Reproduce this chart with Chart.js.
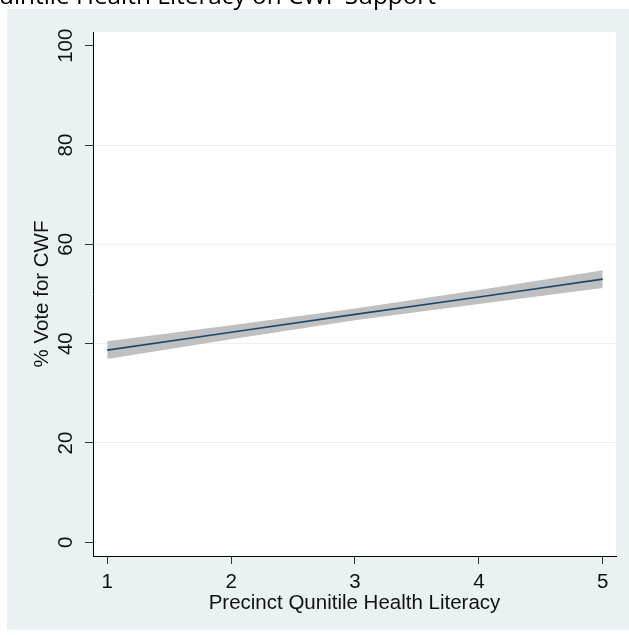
<!DOCTYPE html>
<html>
<head>
<meta charset="utf-8">
<script src="https://cdn.jsdelivr.net/npm/chart.js@4.4.1/dist/chart.umd.min.js"></script>
<style>
  html, body { margin: 0; padding: 0; background: #ffffff; }
  canvas { display: block; }
</style>
</head>
<body>
<canvas id="chart" width="629" height="635"></canvas>
<script>
// Precinct health-literacy quintile
const quintiles = [1, 2, 3, 4, 5];
// Fitted % vote for CWF and its confidence band
const fitted = [38.7, 42.3, 45.9, 49.4, 53.0];
const ciUpper = [40.5, 43.7, 47.1, 50.8, 54.8];
const ciLower = [36.9, 40.9, 44.7, 48.0, 51.2];
// Axis tick labels
const xTicks = [1, 2, 3, 4, 5];
const yTicks = [0, 20, 40, 60, 80, 100];

const titleText = 'uintile Health Literacy on CWF Support';
const axisFont = 'Liberation Sans, Arial, sans-serif';

const toPoints = (ys) => quintiles.map((x, i) => ({ x: x, y: ys[i] }));

// Outer panel, white plot region and the heading
const backdrop = {
  id: 'backdrop',
  beforeDraw(chart) {
    const ctx = chart.ctx;
    const a = chart.chartArea;
    ctx.save();
    ctx.fillStyle = '#ffffff';
    ctx.fillRect(0, 0, chart.width, chart.height);
    ctx.fillStyle = '#eaf1f3';
    ctx.fillRect(7, 9, chart.width - 7, 621);
    ctx.fillStyle = '#ffffff';
    ctx.fillRect(a.left, a.top, a.right - a.left, a.bottom - a.top);

    ctx.fillStyle = '#000000';
    ctx.textBaseline = 'alphabetic';
    ctx.textAlign = 'left';
    ctx.font = '20px "Open Sans"';
    const w = ctx.measureText(titleText).width;
    const size = 20 * 437 / w;
    ctx.font = size.toFixed(2) + 'px "Open Sans"';
    ctx.fillText(titleText, -1, 4);
    ctx.restore();
  }
};

new Chart(document.getElementById('chart'), {
  type: 'line',
  data: {
    datasets: [
      {
        label: 'upper',
        data: toPoints(ciUpper),
        borderWidth: 0,
        borderColor: '#c0c0c0',
        backgroundColor: '#c0c0c0',
        pointRadius: 0,
        fill: '+1',
        order: 2
      },
      {
        label: 'lower',
        data: toPoints(ciLower),
        borderWidth: 0,
        borderColor: '#c0c0c0',
        backgroundColor: '#c0c0c0',
        pointRadius: 0,
        fill: false,
        order: 2
      },
      {
        label: 'fit',
        data: toPoints(fitted),
        borderColor: '#1a476f',
        borderWidth: 1.6,
        pointRadius: 0,
        fill: false,
        order: 1
      }
    ]
  },
  options: {
    responsive: false,
    animation: false,
    devicePixelRatio: 1,
    layout: { padding: { left: 0, top: 32, right: 13, bottom: 0 } },
    plugins: {
      legend: { display: false },
      tooltip: { enabled: false },
      title: { display: false }
    },
    elements: { line: { tension: 0 } },
    scales: {
      x: {
        type: 'linear',
        min: 0.885,
        max: 5.107,
        afterBuildTicks(scale) { scale.ticks = xTicks.map(v => ({ value: v })); },
        afterFit(scale) { scale.height = 79; },
        border: { display: true, color: '#000000', width: 1 },
        grid: { drawOnChartArea: false, drawTicks: true, tickLength: 8, tickColor: '#333333', tickWidth: 1 },
        ticks: {
          color: '#111111',
          font: { family: axisFont, size: 20.5 },
          padding: 6,
          maxRotation: 0,
          minRotation: 0,
          callback: (v) => String(v)
        },
        title: {
          display: true,
          text: 'Precinct Qunitile Health Literacy',
          color: '#111111',
          font: { family: axisFont, size: 20.5 },
          padding: { top: 0, bottom: 19.7 }
        }
      },
      y: {
        type: 'linear',
        min: -2.76,
        max: 102.76,
        afterBuildTicks(scale) { scale.ticks = yTicks.map(v => ({ value: v })); },
        afterFit(scale) { scale.width = 93; },
        border: { display: true, color: '#000000', width: 1 },
        grid: {
          drawTicks: true,
          tickLength: 8,
          tickColor: '#333333',
          tickWidth: 1,
          lineWidth: 1,
          color: (c) => (c.tick && (c.tick.value === 0 || c.tick.value === 100)) ? 'rgba(0,0,0,0)' : '#eaf1f3'
        },
        ticks: {
          color: '#111111',
          font: { family: axisFont, size: 20.5 },
          minRotation: 90,
          maxRotation: 90,
          crossAlign: 'center',
          padding: 2,
          callback: (v) => String(v)
        },
        title: {
          display: true,
          text: '% Vote for CWF',
          color: '#111111',
          font: { family: axisFont, size: 20.5 },
          padding: { top: 30.5, bottom: 0 }
        }
      }
    }
  },
  plugins: [backdrop]
});
</script>
</body>
</html>
